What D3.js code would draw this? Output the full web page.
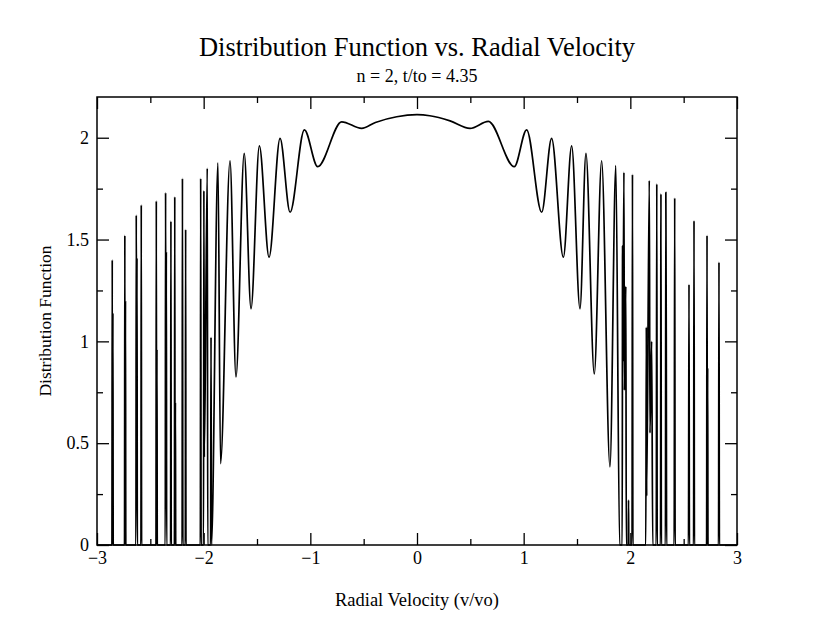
<!DOCTYPE html>
<html>
<head>
<meta charset="utf-8">
<title>Distribution Function vs. Radial Velocity</title>
<script src="https://cdn.jsdelivr.net/npm/d3@7"></script>
<style>
	body { margin: 0; background: #fff; }
	text { font-family: "Liberation Serif", "DejaVu Serif", serif; fill: #000; }
</style>
</head>
<body>
<div id="chart"></div>
<script>
// Radial velocity (v/vo) of each point on the curve
var vel = [
	-3.0, -2.86, -2.857, -2.854, -2.851, -2.848,
	-2.742, -2.739, -2.736, -2.733, -2.730,
	-2.635, -2.632, -2.628, -2.625, -2.622,
	-2.588, -2.585, -2.582,
	-2.447, -2.444, -2.441, -2.438, -2.435,
	-2.360, -2.357, -2.353, -2.350, -2.347,
	-2.310, -2.307, -2.304,
	-2.274, -2.271, -2.268, -2.265, -2.262,
	-2.202, -2.199, -2.195, -2.172, -2.169, -2.166,
	-2.031, -2.028, -2.024,
	-2.001, -1.998, -1.994, -1.966, -1.962,
	-1.935, -1.931, -1.927,
	-1.866, -1.842, -1.753, -1.697, -1.620, -1.556, -1.478,
	-1.387, -1.284, -1.190, -1.056, -0.931, -0.706, -0.519,
	-0.39, -0.19, 0.0, 0.12, 0.31, 0.497, 0.669,
	0.912, 1.028, 1.169, 1.262, 1.372, 1.450, 1.528, 1.584,
	1.662, 1.731, 1.809, 1.864,
	1.900, 1.924, 1.927, 1.930, 1.940, 1.944, 1.958, 1.962,
	1.980, 1.983, 1.986,
	2.016, 2.020, 2.024,
	2.145, 2.150, 2.153, 2.178, 2.184, 2.200, 2.210,
	2.243, 2.248, 2.252,
	2.283, 2.287, 2.291,
	2.329, 2.333, 2.337, 2.340,
	2.411, 2.416, 2.420,
	2.545, 2.550, 2.554,
	2.593, 2.597, 2.601,
	2.715, 2.719, 2.722, 2.725, 2.728,
	2.827, 2.831, 2.835, 3.0
];

// Distribution function at each velocity above
var dist = [
	0, 0, 1.40, 0, 1.14, 0,
	0, 1.52, 0, 1.20, 0,
	0, 1.62, 0.84, 1.41, 0,
	0, 1.67, 0,
	0, 1.69, 0, 0.96, 0,
	0, 1.73, 0.52, 1.44, 0,
	0, 1.59, 0,
	0, 1.71, 0, 0.70, 0,
	0, 1.80, 0, 0, 1.55, 0,
	0, 1.80, 0,
	0, 1.74, 0.43, 1.85, 0,
	0, 1.02, 0,
	1.877, 0.40, 1.887, 0.825, 1.923, 1.16, 1.96,
	1.413, 1.997, 1.634, 2.039, 1.858, 2.078, 2.046,
	2.075, 2.103, 2.113, 2.108, 2.083, 2.046, 2.08,
	1.858, 2.039, 1.634, 1.997, 1.413, 1.96, 1.16, 1.923,
	0.84, 1.887, 0.384, 1.863,
	0, 0, 1.47, 0.90, 1.83, 0.76, 1.27, 0,
	0, 0.22, 0,
	0, 1.82, 0,
	0, 1.07, 0.24, 1.79, 0.55, 1.00, 0,
	0, 1.773, 0,
	0, 1.724, 0,
	0, 1.732, 1.02, 0,
	0, 1.704, 0,
	0, 1.28, 0,
	0, 1.593, 0,
	0, 1.52, 0, 0.87, 0,
	0, 1.389, 0, 0
];

// Tick values
var xMajor = [-3, -2, -1, 0, 1, 2, 3];
var xMinor = [-2.5, -1.5, -0.5, 0.5, 1.5, 2.5];
var yMajor = [0, 0.5, 1, 1.5, 2];
var yMinor = [0.25, 0.75, 1.25, 1.75];

var titleText = "Distribution Function vs. Radial Velocity";
var subtitleText = "n = 2, t/to = 4.35";
var xLabel = "Radial Velocity (v/vo)";
var yLabel = "Distribution Function";

/*
 * drawChart()
 * Builds the frame, the inward ticks on all four sides and the curve.
 */
function drawChart() {
	var W = 830, H = 642;
	var left = 97, right = 737, top = 97, bottom = 545;

	var svg = d3.select("#chart").append("svg").attr("width", W).attr("height", H);
	svg.append("rect").attr("width", W).attr("height", H).attr("fill", "#fff");

	var x = d3.scaleLinear().domain([-3, 3]).range([left, right]);
	var y = d3.scaleLinear().domain([0, 2.2]).range([bottom, top]);

	var fmt = function(d) {
		return d < 0 ? "\u2212" + Math.abs(d) : String(d);
	};

	// bottom axis: labels + inward major ticks
	var bx = svg.append("g").attr("transform", "translate(0," + bottom + ")")
		.call(d3.axisBottom(x).tickValues(xMajor).tickFormat(fmt).tickSize(-12).tickPadding(6));
	svg.append("g").attr("transform", "translate(0," + bottom + ")")
		.call(d3.axisBottom(x).tickValues(xMinor).tickFormat("").tickSize(-6));
	// top axis, ticks only
	svg.append("g").attr("transform", "translate(0," + top + ")")
		.call(d3.axisTop(x).tickValues(xMajor).tickFormat("").tickSize(-12));
	svg.append("g").attr("transform", "translate(0," + top + ")")
		.call(d3.axisTop(x).tickValues(xMinor).tickFormat("").tickSize(-6));
	// left axis
	var ly = svg.append("g").attr("transform", "translate(" + left + ",0)")
		.call(d3.axisLeft(y).tickValues(yMajor).tickFormat(fmt).tickSize(-12).tickPadding(8));
	svg.append("g").attr("transform", "translate(" + left + ",0)")
		.call(d3.axisLeft(y).tickValues(yMinor).tickFormat("").tickSize(-6));
	// right axis, ticks only
	svg.append("g").attr("transform", "translate(" + right + ",0)")
		.call(d3.axisRight(y).tickValues(yMajor).tickFormat("").tickSize(-12));
	svg.append("g").attr("transform", "translate(" + right + ",0)")
		.call(d3.axisRight(y).tickValues(yMinor).tickFormat("").tickSize(-6));

	svg.selectAll(".domain").remove();
	svg.selectAll(".tick line").attr("stroke", "#000").attr("stroke-width", 1.3);
	bx.selectAll("text").attr("font-size", 18).attr("font-family", "Liberation Serif");
	ly.selectAll("text").attr("font-size", 18).attr("font-family", "Liberation Serif");

	// the curve
	var pts = vel.map(function(v, i) { return [v, dist[i]]; });
	var line = d3.line()
		.x(function(d) { return x(d[0]); })
		.y(function(d) { return y(d[1]); })
		.curve(d3.curveMonotoneX);
	svg.append("path").datum(pts)
		.attr("d", line)
		.attr("fill", "none")
		.attr("stroke", "#000")
		.attr("stroke-width", 1.7)
		.attr("stroke-linejoin", "round");

	// frame drawn last so it sits over the curve at zero
	svg.append("rect")
		.attr("x", left).attr("y", top)
		.attr("width", right - left).attr("height", bottom - top)
		.attr("fill", "none").attr("stroke", "#000").attr("stroke-width", 1.5);

	// titles
	svg.append("text").attr("x", (left + right) / 2).attr("y", 56)
		.attr("text-anchor", "middle").attr("font-size", 26.5).text(titleText);
	svg.append("text").attr("x", (left + right) / 2).attr("y", 82)
		.attr("text-anchor", "middle").attr("font-size", 18).text(subtitleText);
	svg.append("text").attr("x", (left + right) / 2).attr("y", 606)
		.attr("text-anchor", "middle").attr("font-size", 18.5).text(xLabel);
	svg.append("text")
		.attr("transform", "translate(51," + (top + bottom) / 2 + ") rotate(-90)")
		.attr("text-anchor", "middle").attr("font-size", 17.5).text(yLabel);
}

drawChart();
</script>
</body>
</html>
